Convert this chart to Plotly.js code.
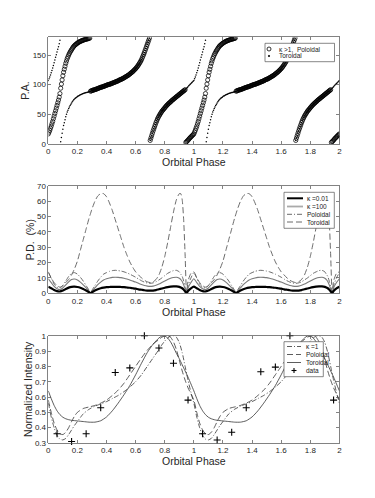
<!DOCTYPE html>
<html>
<head>
<meta charset="utf-8">
<script src="https://cdn.plot.ly/plotly-3.0.1.min.js"></script>
<style>
  html, body { margin: 0; padding: 0; background: #fff; }
  #fig { width: 375px; height: 498px; }
</style>
</head>
<body>
<div id="fig"></div>
<script>
// Polarisation model vs orbital phase: P.A., P.D. and normalised light curve.
// All model curves are read for one orbital cycle and shown for two cycles.

// --- P.A. (deg), sampled every 0.005 in phase over one cycle ---
const PA_STEP = 0.005;
const PA_TOR = [
  107, 110, 113, 116.5, 120, 124, 128, 132.5, 137, 141.5, 146, 150.5, 155, 159.5, 164, 169, 175,
  4, 11, 18, 25, 31, 36, 41, 46, 50, 54, 57, 60, 62.5, 65, 67, 69, 71, 73, 74.5, 76,
  77, 78, 79, 80, 81, 81.5, 82.3, 83, 83.5, 84, 84.5, 85, 85.5, 86, 86.3, 86.6, 86.9, 87.3, 87.7, 88, 88.5,
  89, 89.5, 90, 90.5, 91, 91.3, 91.6, 92, 92.5, 93, 93.5, 94, 94.5, 95, 95.5, 95.8, 96.2, 96.6, 97, 97.5, 98, 98.5,
  99, 99.5, 100, 100.3, 100.6, 101, 101.5, 102, 102.5, 103, 103.5, 104, 104.5, 105, 105.5, 106, 106.5, 107.2, 108, 108.5,
  109, 109.5, 110, 110.8, 111.5, 112.2, 113, 113.8, 114.5, 115.2, 116, 117, 118, 119, 120, 121, 122, 123.2, 124.5, 125.7,
  127, 128.5, 130, 131.7, 133.5, 135.5, 137.5, 139.7, 142, 145, 148, 151, 154, 157.5, 161, 164.5, 168, 171.5, 175, 178.5,
  6, 10, 14, 18, 22, 25.5, 29, 32.5, 36, 39, 42, 44.5, 47, 49, 51, 53, 55, 56.5, 58, 59.5,
  61, 62.5, 64, 65.3, 66.5, 67.8, 69, 70, 71, 72.3, 73.5, 74.5, 75.5, 76.5, 77.5, 78.5, 79.5, 80.5, 81.5, 82.5,
  83.5, 84.5, 85.5, 86.5, 87.5, 88.5, 89.5, 90.5, 91.5, 92.7, 94, 95.2, 96.5, 98, 99.5, 100.7, 102, 103.2, 104.5, 105.7
];
const PA_POL = [
  17, 20, 23, 26.5, 30, 34, 38, 42.5, 47, 51.5, 56, 60.5, 65, 69.5, 74, 79, 85,
  94, 101, 108, 115, 121, 126, 131, 136, 140, 144, 147, 150, 152.5, 155, 157, 159, 161, 163, 164.5, 166,
  167, 168, 169, 170, 171, 171.5, 172.3, 173, 173.5, 174, 174.5, 175, 175.5, 176, 176.3, 176.6, 176.9, 177.3, 177.7, 178, 178.5,
  89, 89.5, 90, 90.5, 91, 91.3, 91.6, 92, 92.5, 93, 93.5, 94, 94.5, 95, 95.5, 95.8, 96.2, 96.6, 97, 97.5, 98, 98.5,
  99, 99.5, 100, 100.3, 100.6, 101, 101.5, 102, 102.5, 103, 103.5, 104, 104.5, 105, 105.5, 106, 106.5, 107.2, 108, 108.5,
  109, 109.5, 110, 110.8, 111.5, 112.2, 113, 113.8, 114.5, 115.2, 116, 117, 118, 119, 120, 121, 122, 123.2, 124.5, 125.7,
  127, 128.5, 130, 131.7, 133.5, 135.5, 137.5, 139.7, 142, 145, 148, 151, 154, 157.5, 161, 164.5, 168, 171.5, 175, 178.5,
  6, 10, 14, 18, 22, 25.5, 29, 32.5, 36, 39, 42, 44.5, 47, 49, 51, 53, 55, 56.5, 58, 59.5,
  61, 62.5, 64, 65.3, 66.5, 67.8, 69, 70, 71, 72.3, 73.5, 74.5, 75.5, 76.5, 77.5, 78.5, 79.5, 80.5, 81.5, 82.5,
  83.5, 84.5, 85.5, 86.5, 87.5, 88.5, 89.5, 90.5, 91.5, 2.7, 4, 5.2, 6.5, 8, 9.5, 10.7, 12, 13.2, 14.5, 15.7
];

// --- P.D. (%) ---
const PD_PHASE = [0, .02, .04, .06, .08, .10, .12, .14, .16, .18, .20, .22, .24, .26, .28, .29, .30,
  .32, .34, .36, .38, .40, .42, .44, .46, .48, .50, .52, .54, .56, .58, .60, .62, .64, .66, .68,
  .70, .72, .74, .76, .78, .80, .82, .84, .86, .88, .90, .91, .92, .93, .94, .95, .96, .98];
const PD_K001 = [4.3, 3.3, 2.2, 1.4, 1.2, 1.8, 2.8, 3.7, 4.2, 4.3, 4.1, 3.6, 2.8, 1.8, 0.7, 0.1, 0.7,
  1.8, 2.7, 3.3, 3.7, 4, 4.1, 4.2, 4.2, 4.2, 4.1, 4, 3.8, 3.6, 3.3, 3, 2.6, 2.3, 2, 1.8,
  1.7, 1.8, 2.1, 2.6, 3.1, 3.6, 4, 4.3, 4.5, 4.5, 4.2, 3.8, 3.3, 2.4, 1.2, 0.1, 1.5, 3.2];
const PD_K100 = [9.5, 7, 4.5, 3, 2.5, 3.5, 5.5, 7.5, 9, 9.3, 8.7, 7.3, 5.5, 3.5, 1.4, 0.2, 1.4,
  3.5, 5.6, 7.3, 8.7, 9.5, 10, 10.4, 10.5, 10.4, 10.2, 9.8, 9.3, 8.7, 8, 7.3, 6.5, 5.7, 5.1, 4.7,
  4.5, 4.7, 5.2, 6, 7, 8, 9, 9.8, 10.3, 10.5, 9.8, 9, 7.7, 5.5, 2.8, 0.2, 3.5, 7];
const PD_POL = [13.5, 10, 6, 4, 3.5, 5, 8, 11, 13, 13.5, 12.5, 10.5, 8, 5, 2, 0.3, 2,
  5, 8, 10.5, 12.5, 13.5, 14.3, 14.8, 15, 14.8, 14.5, 14, 13.3, 12.5, 11.5, 10.5, 9.3, 8.2, 7.3, 6.7,
  6.5, 6.8, 7.5, 8.7, 10, 11.5, 13, 14, 14.8, 15, 14, 12.5, 11, 8, 4, 0.3, 5, 10];
const PD_TOR = [14, 10, 7, 5, 4, 5, 7, 9, 12, 16, 21, 28, 35, 42, 49, 52, 55,
  60, 63.5, 65, 65, 63, 59, 54, 48, 42, 36, 30, 25, 20.5, 17, 14, 12, 10, 8.5, 7.5,
  7, 7.5, 9, 12, 17, 24, 33, 43, 53, 61, 65, 65, 61, 48, 25, 0.5, 8, 13];

// --- normalised intensity ---
const NI_PHASE = [0, .02, .04, .06, .08, .10, .12, .14, .16, .18, .20, .24, .28, .32, .36, .40, .44,
  .48, .52, .56, .60, .64, .68, .72, .76, .78, .80, .82, .84, .86, .88, .90, .92, .94, .96, .98];
const NI_K1 = [.56, .47, .40, .35, .325, .32, .33, .355, .385, .415, .44, .49, .52, .54, .555, .57, .59,
  .61, .635, .665, .70, .745, .80, .855, .91, .94, .965, .985, .998, 1.0, .99, .955, .89, .80, .71, .63];
const NI_POL = [.58, .50, .43, .385, .36, .355, .37, .40, .44, .475, .50, .525, .535, .545, .56, .58, .61,
  .645, .69, .745, .80, .855, .905, .945, .975, .99, .998, 1.0, .99, .96, .91, .84, .77, .71, .66, .62];
const NI_TOR = [.64, .59, .545, .51, .485, .468, .458, .452, .448, .446, .444, .44, .436, .436, .445, .47, .51,
  .56, .615, .675, .745, .82, .89, .945, .985, .998, .998, .985, .96, .925, .885, .85, .81, .77, .73, .685];

const OBS_PHASE = [0.06, 0.16, 0.26, 0.36, 0.46, 0.56, 0.66, 0.76, 0.86, 0.96,
  1.06, 1.16, 1.26, 1.36, 1.46, 1.56, 1.66, 1.76, 1.86, 1.96];
const OBS_NI = [0.36, 0.31, 0.36, 0.53, 0.76, 0.79, 1.0, 0.92, 0.82, 0.58,
  0.36, 0.32, 0.37, 0.53, 0.765, 0.795, 1.0, 0.92, 0.82, 0.58];

const FONT = '"Liberation Sans", Arial, Helvetica, sans-serif';
const INK = '#262626';
const W = 375, H = 498;

// one cycle -> phases 0..2 (closing point at 2 equals phase 0)
function twoCycles(phase, vals) {
  const x = [], y = [];
  [0, 1].forEach(c => phase.forEach((p, i) => { x.push(+(p + c).toFixed(4)); y.push(vals[i]); }));
  x.push(2); y.push(vals[0]);
  return { x, y };
}
const paPhase = PA_TOR.map((_, i) => +(i * PA_STEP).toFixed(4));

const traces = [];
const pol = twoCycles(paPhase, PA_POL), tor = twoCycles(paPhase, PA_TOR);
traces.push({ x: pol.x, y: pol.y, xaxis: 'x', yaxis: 'y', mode: 'markers', type: 'scatter',
  marker: { symbol: 'circle-open', size: 4.2, color: '#000', line: { width: 0.75, color: '#000' } } });
traces.push({ x: tor.x, y: tor.y, xaxis: 'x', yaxis: 'y', mode: 'markers', type: 'scatter',
  marker: { symbol: 'circle', size: 1.5, color: '#000' } });

const pdStyles = [
  [PD_TOR, { color: '#5a5a5a', width: 0.9, dash: '6px,3px' }],
  [PD_POL, { color: '#5a5a5a', width: 0.9, dash: '5px,2px,1px,2px' }],
  [PD_K100, { color: '#7a7a7a', width: 1.1 }],
  [PD_K001, { color: '#000', width: 2.2 }],
];
pdStyles.forEach(([vals, line]) => {
  const s = twoCycles(PD_PHASE, vals);
  traces.push({ x: s.x, y: s.y, xaxis: 'x2', yaxis: 'y2', mode: 'lines', type: 'scatter',
    line: Object.assign({ shape: 'spline', smoothing: 0.6 }, line) });
});

const niStyles = [
  [NI_K1, { color: '#333', width: 0.8, dash: '5px,2px,1px,2px' }],
  [NI_POL, { color: '#333', width: 0.8, dash: '6px,3px' }],
  [NI_TOR, { color: '#333', width: 0.8 }],
];
niStyles.forEach(([vals, line]) => {
  const s = twoCycles(NI_PHASE, vals);
  traces.push({ x: s.x, y: s.y, xaxis: 'x3', yaxis: 'y3', mode: 'lines', type: 'scatter',
    line: Object.assign({ shape: 'spline', smoothing: 0.6 }, line) });
});
traces.push({ x: OBS_PHASE, y: OBS_NI, xaxis: 'x3', yaxis: 'y3', mode: 'markers', type: 'scatter',
  cliponaxis: false, marker: { symbol: 'cross-thin', size: 5, line: { width: 1.1, color: '#000' } } });

function axisStyle(extra) {
  return Object.assign({
    showline: true, mirror: 'ticks', linecolor: '#4d4d4d', linewidth: 0.7,
    ticks: 'inside', ticklen: 3, tickwidth: 0.7, tickcolor: '#4d4d4d',
    showgrid: false, zeroline: false, fixedrange: true,
    tickfont: { family: FONT, size: 8, color: INK },
  }, extra);
}
const xDom = [48.3 / W, 339.4 / W];
const dom = (top, bottom) => [1 - bottom / H, 1 - top / H];
const xTitle = { text: 'Orbital Phase', font: { family: FONT, size: 10.5, color: INK }, standoff: 3 };
const yTitle = t => ({ text: t, font: { family: FONT, size: 10.5, color: INK }, standoff: 0 });

// hand-drawn MATLAB-like legends (box + samples + labels), positions in px
const shapes = [], annotations = [];
const px = x => x / W, py = y => 1 - y / H;
function legend(box, rows, sx0, sx1, tx) {
  shapes.push({ type: 'rect', xref: 'paper', yref: 'paper', x0: px(box[0]), x1: px(box[2]),
    y0: py(box[1]), y1: py(box[3]), fillcolor: '#fff', line: { color: '#555', width: 0.7 } });
  rows.forEach(r => {
    const cx = (sx0 + sx1) / 2;
    if (r.kind === 'line') {
      shapes.push({ type: 'line', xref: 'paper', yref: 'paper', x0: px(sx0), x1: px(sx1),
        y0: py(r.y), y1: py(r.y), line: r.line });
    } else if (r.kind === 'circle' || r.kind === 'dot') {
      const rad = r.kind === 'circle' ? 2 : 0.7;
      shapes.push({ type: 'circle', xref: 'paper', yref: 'paper', x0: px(cx - rad), x1: px(cx + rad),
        y0: py(r.y + rad), y1: py(r.y - rad), fillcolor: r.kind === 'dot' ? '#000' : 'rgba(0,0,0,0)',
        line: { color: '#000', width: 0.8 } });
    } else if (r.kind === 'plus') {
      shapes.push({ type: 'line', xref: 'paper', yref: 'paper', x0: px(cx - 2.5), x1: px(cx + 2.5),
        y0: py(r.y), y1: py(r.y), line: { color: '#000', width: 1.1 } });
      shapes.push({ type: 'line', xref: 'paper', yref: 'paper', x0: px(cx), x1: px(cx),
        y0: py(r.y - 2.5), y1: py(r.y + 2.5), line: { color: '#000', width: 1.1 } });
    }
    annotations.push({ xref: 'paper', yref: 'paper', x: px(tx), y: py(r.y), xanchor: 'left', yanchor: 'middle',
      showarrow: false, text: r.label, font: { family: FONT, size: 6.5, color: '#222' } });
  });
}
legend([265, 43.3, 334.5, 61.7], [
  { kind: 'circle', y: 49, label: '\u03ba >1,\u00a0 Poloidal' },
  { kind: 'dot', y: 56, label: 'Toroidal' },
], 266, 272, 276.5);
legend([284, 192.3, 334.3, 228.3], [
  { kind: 'line', y: 198.3, label: '\u03ba =0.01', line: { color: '#000', width: 2 } },
  { kind: 'line', y: 206.5, label: '\u03ba =100', line: { color: '#aaa', width: 1.8 } },
  { kind: 'line', y: 214.3, label: 'Poloidal', line: { color: '#5a5a5a', width: 0.9, dash: '5px,2px,1px,2px' } },
  { kind: 'line', y: 222, label: 'Toroidal', line: { color: '#5a5a5a', width: 0.9, dash: '6px,3px' } },
], 287, 303, 305);
legend([284, 341.7, 323.3, 376.7], [
  { kind: 'line', y: 346.5, label: '\u03ba =1', line: { color: '#333', width: 0.8, dash: '5px,2px,1px,2px' } },
  { kind: 'line', y: 354.5, label: 'Poloidal', line: { color: '#333', width: 0.8, dash: '6px,3px' } },
  { kind: 'line', y: 362.5, label: 'Toroidal', line: { color: '#333', width: 0.8 } },
  { kind: 'plus', y: 370.5, label: 'data' },
], 287, 301, 304);

const layout = {
  width: W, height: H, margin: { l: 0, r: 0, t: 0, b: 0 },
  paper_bgcolor: '#fff', plot_bgcolor: '#fff', showlegend: false,
  font: { family: FONT, color: INK },
  xaxis: axisStyle({ domain: xDom, anchor: 'y', range: [0, 2], dtick: 0.2, title: xTitle }),
  yaxis: axisStyle({ domain: dom(37.2, 144), anchor: 'x', range: [0, 180], tickvals: [0, 50, 100, 150], title: yTitle('P.A.') }),
  xaxis2: axisStyle({ domain: xDom, anchor: 'y2', range: [0, 2], dtick: 0.2, title: xTitle }),
  yaxis2: axisStyle({ domain: dom(186, 293.3), anchor: 'x2', range: [0, 70], dtick: 10, title: yTitle('P.D.\u00a0\u00a0(%)') }),
  xaxis3: axisStyle({ domain: xDom, anchor: 'y3', range: [0, 2], dtick: 0.1, title: xTitle }),
  yaxis3: axisStyle({ domain: dom(335.7, 443), anchor: 'x3', range: [0.3, 1], dtick: 0.1, title: yTitle('Normalized Intensity') }),
  shapes, annotations,
};
layout.xaxis3.dtick = 0.2;

Plotly.newPlot('fig', traces, layout, { staticPlot: true, displayModeBar: false });
</script>
</body>
</html>
